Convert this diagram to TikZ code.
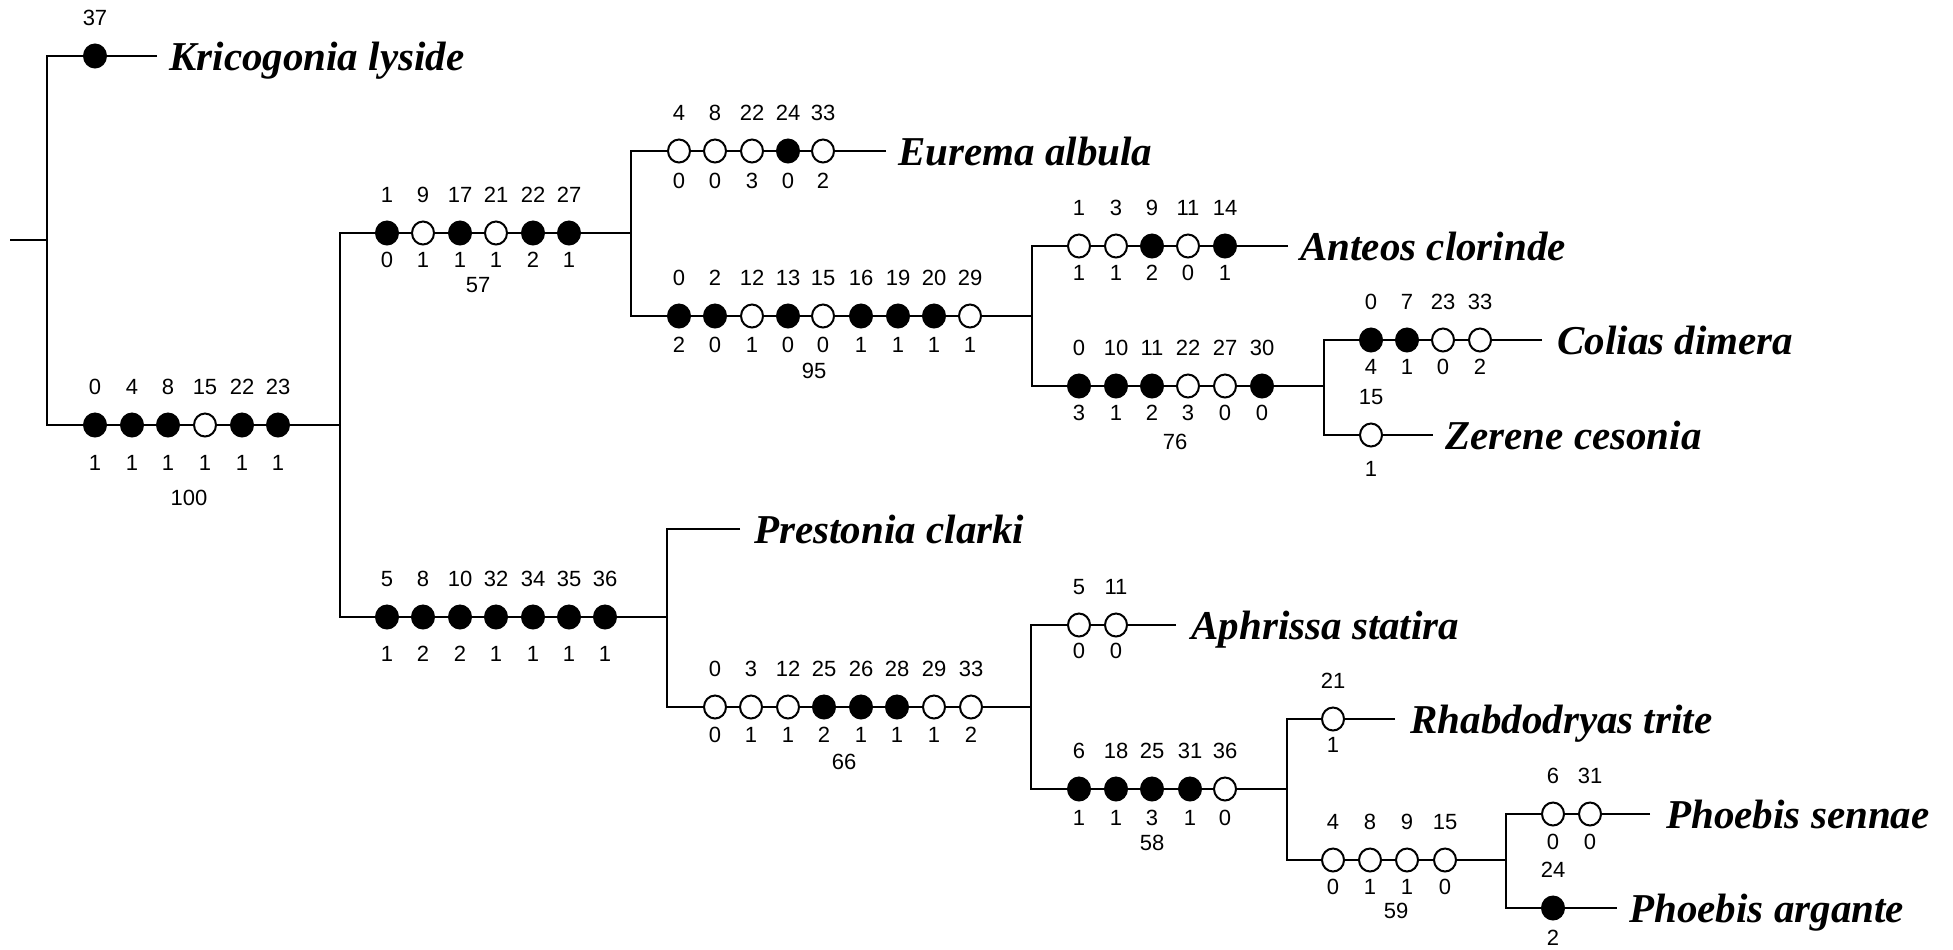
\documentclass[tikz,border=0pt]{standalone}
\usepackage{fontspec}
\usetikzlibrary{shapes.geometric}
\setmainfont{Liberation Serif}
\newfontfamily\numfont{Liberation Sans}
\definecolor{on}{gray}{0}
\definecolor{off}{gray}{1}
\tikzset{
  edge/.style={line width=1pt, line join=miter},
  chr/.style={ellipse, draw, line width=1pt, fill=#1, minimum width=11pt, minimum height=11.5pt, inner sep=0pt},
  num/.style={font=\numfont\fontsize{11}{13}\selectfont, inner sep=0pt},
  species/.style={font=\bfseries\itshape\fontsize{20.5}{24}\selectfont, anchor=base west, inner sep=0pt},
}
\newcommand\branchchars[4]{%
  \foreach \qx/\qa/\qb/\qf [count=\qn] in {#4} {
    \node[chr=\qf] (#1c\qn) at (\qx,#2) {};
    \node[num] (#1a\qn) at (\qx,#2-38) {\qa};
    \node[num] (#1b\qn) at (\qx,#2+#3) {\qb};
  }}
\begin{document}
\begin{tikzpicture}[x=0.5pt, y=-0.5pt]
\useasboundingbox (0,0) rectangle (1953,949);
% tree coordinates
\coordinate (r0) at (10,240);
\coordinate (Am) at (47,240);
\coordinate (At) at (47,56);
\coordinate (Ab) at (47,425);
\coordinate (krEnd) at (157,56);
\coordinate (Bm) at (340,425);
\coordinate (Bt) at (340,233);
\coordinate (Bb) at (340,617);
\coordinate (Cm) at (631,233);
\coordinate (Ct) at (631,151);
\coordinate (Cb) at (631,316);
\coordinate (euEnd) at (886,151);
\coordinate (Em) at (1032,316);
\coordinate (Et) at (1032,246);
\coordinate (Eb) at (1032,386);
\coordinate (anEnd) at (1288,246);
\coordinate (Fm) at (1324,386);
\coordinate (Ft) at (1324,340);
\coordinate (Fb) at (1324,435);
\coordinate (coEnd) at (1542,340);
\coordinate (zeEnd) at (1433,435);
\coordinate (Dm) at (667,617);
\coordinate (Dt) at (667,529);
\coordinate (Db) at (667,707);
\coordinate (prEnd) at (740,529);
\coordinate (Gm) at (1031,707);
\coordinate (Gt) at (1031,625);
\coordinate (Gb) at (1031,789);
\coordinate (apEnd) at (1176,625);
\coordinate (Hm) at (1287,789);
\coordinate (Ht) at (1287,719);
\coordinate (Hb) at (1287,860);
\coordinate (rhEnd) at (1395,719);
\coordinate (Im) at (1506,860);
\coordinate (It) at (1506,814);
\coordinate (Ib) at (1506,908);
\coordinate (seEnd) at (1650,814);
\coordinate (arEnd) at (1617,908);
% branches
\draw[edge] (r0) -- (Am);
\draw[edge] (krEnd) -- (At) -- (Ab) -- (Bm);
\draw[edge] (Cm) -- (Bt) -- (Bb) -- (Dm);
\draw[edge] (euEnd) -- (Ct) -- (Cb) -- (Em);
\draw[edge] (anEnd) -- (Et) -- (Eb) -- (Fm);
\draw[edge] (coEnd) -- (Ft) -- (Fb) -- (zeEnd);
\draw[edge] (prEnd) -- (Dt) -- (Db) -- (Gm);
\draw[edge] (apEnd) -- (Gt) -- (Gb) -- (Hm);
\draw[edge] (rhEnd) -- (Ht) -- (Hb) -- (Im);
\draw[edge] (seEnd) -- (It) -- (Ib) -- (arEnd);
% characters
\branchchars{kr}{56}{30}{95/37//on}
\branchchars{B}{425}{38}{95/0/1/on,132/4/1/on,168/8/1/on,205/15/1/off,242/22/1/on,278/23/1/on}
\branchchars{C}{233}{27}{387/1/0/on,423/9/1/off,460/17/1/on,496/21/1/off,533/22/2/on,569/27/1/on}
\branchchars{eu}{151}{30}{679/4/0/off,715/8/0/off,752/22/3/off,788/24/0/on,823/33/2/off}
\branchchars{E}{316}{29}{679/0/2/on,715/2/0/on,752/12/1/off,788/13/0/on,823/15/0/off,861/16/1/on,898/19/1/on,934/20/1/on,970/29/1/off}
\branchchars{an}{246}{27}{1079/1/1/off,1116/3/1/off,1152/9/2/on,1188/11/0/off,1225/14/1/on}
\branchchars{F}{386}{27}{1079/0/3/on,1116/10/1/on,1152/11/2/on,1188/22/3/off,1225/27/0/off,1262/30/0/on}
\branchchars{co}{340}{27}{1371/0/4/on,1407/7/1/on,1443/23/0/off,1480/33/2/off}
\branchchars{ze}{435}{34}{1371/15/1/off}
\branchchars{D}{617}{37}{387/5/1/on,423/8/2/on,460/10/2/on,496/32/1/on,533/34/1/on,569/35/1/on,605/36/1/on}
\branchchars{G}{707}{28}{715/0/0/off,751/3/1/off,788/12/1/off,824/25/2/on,861/26/1/on,897/28/1/on,934/29/1/off,971/33/2/off}
\branchchars{ap}{625}{26}{1079/5/0/off,1116/11/0/off}
\branchchars{H}{789}{29}{1079/6/1/on,1116/18/1/on,1152/25/3/on,1190/31/1/on,1225/36/0/off}
\branchchars{rh}{719}{26}{1333/21/1/off}
\branchchars{I}{860}{27}{1333/4/0/off,1370/8/1/off,1407/9/1/off,1445/15/0/off}
\branchchars{se}{814}{28}{1553/6/0/off,1590/31/0/off}
\branchchars{ar}{908}{30}{1553/24/2/on}
% support values
\node[num] (sB) at (189,498) {100};
\node[num] (sC) at (478,285) {57};
\node[num] (sE) at (814,371) {95};
\node[num] (sF) at (1175,442) {76};
\node[num] (sG) at (844,762) {66};
\node[num] (sH) at (1152,843) {58};
\node[num] (sI) at (1396,911) {59};
% species names
\node[species] (kr) at (169,70) {Kricogonia lyside};
\node[species] (eu) at (898,165) {Eurema albula};
\node[species] (an) at (1300,260) {Anteos clorinde};
\node[species] (co) at (1557,354) {Colias dimera};
\node[species] (ze) at (1445,449) {Zerene cesonia};
\node[species] (pr) at (754,543) {Prestonia clarki};
\node[species] (ap) at (1191,639) {Aphrissa statira};
\node[species] (rh) at (1410,733) {Rhabdodryas trite};
\node[species] (se) at (1666,828) {Phoebis sennae};
\node[species] (ar) at (1629,922) {Phoebis argante};
\end{tikzpicture}
\end{document}
